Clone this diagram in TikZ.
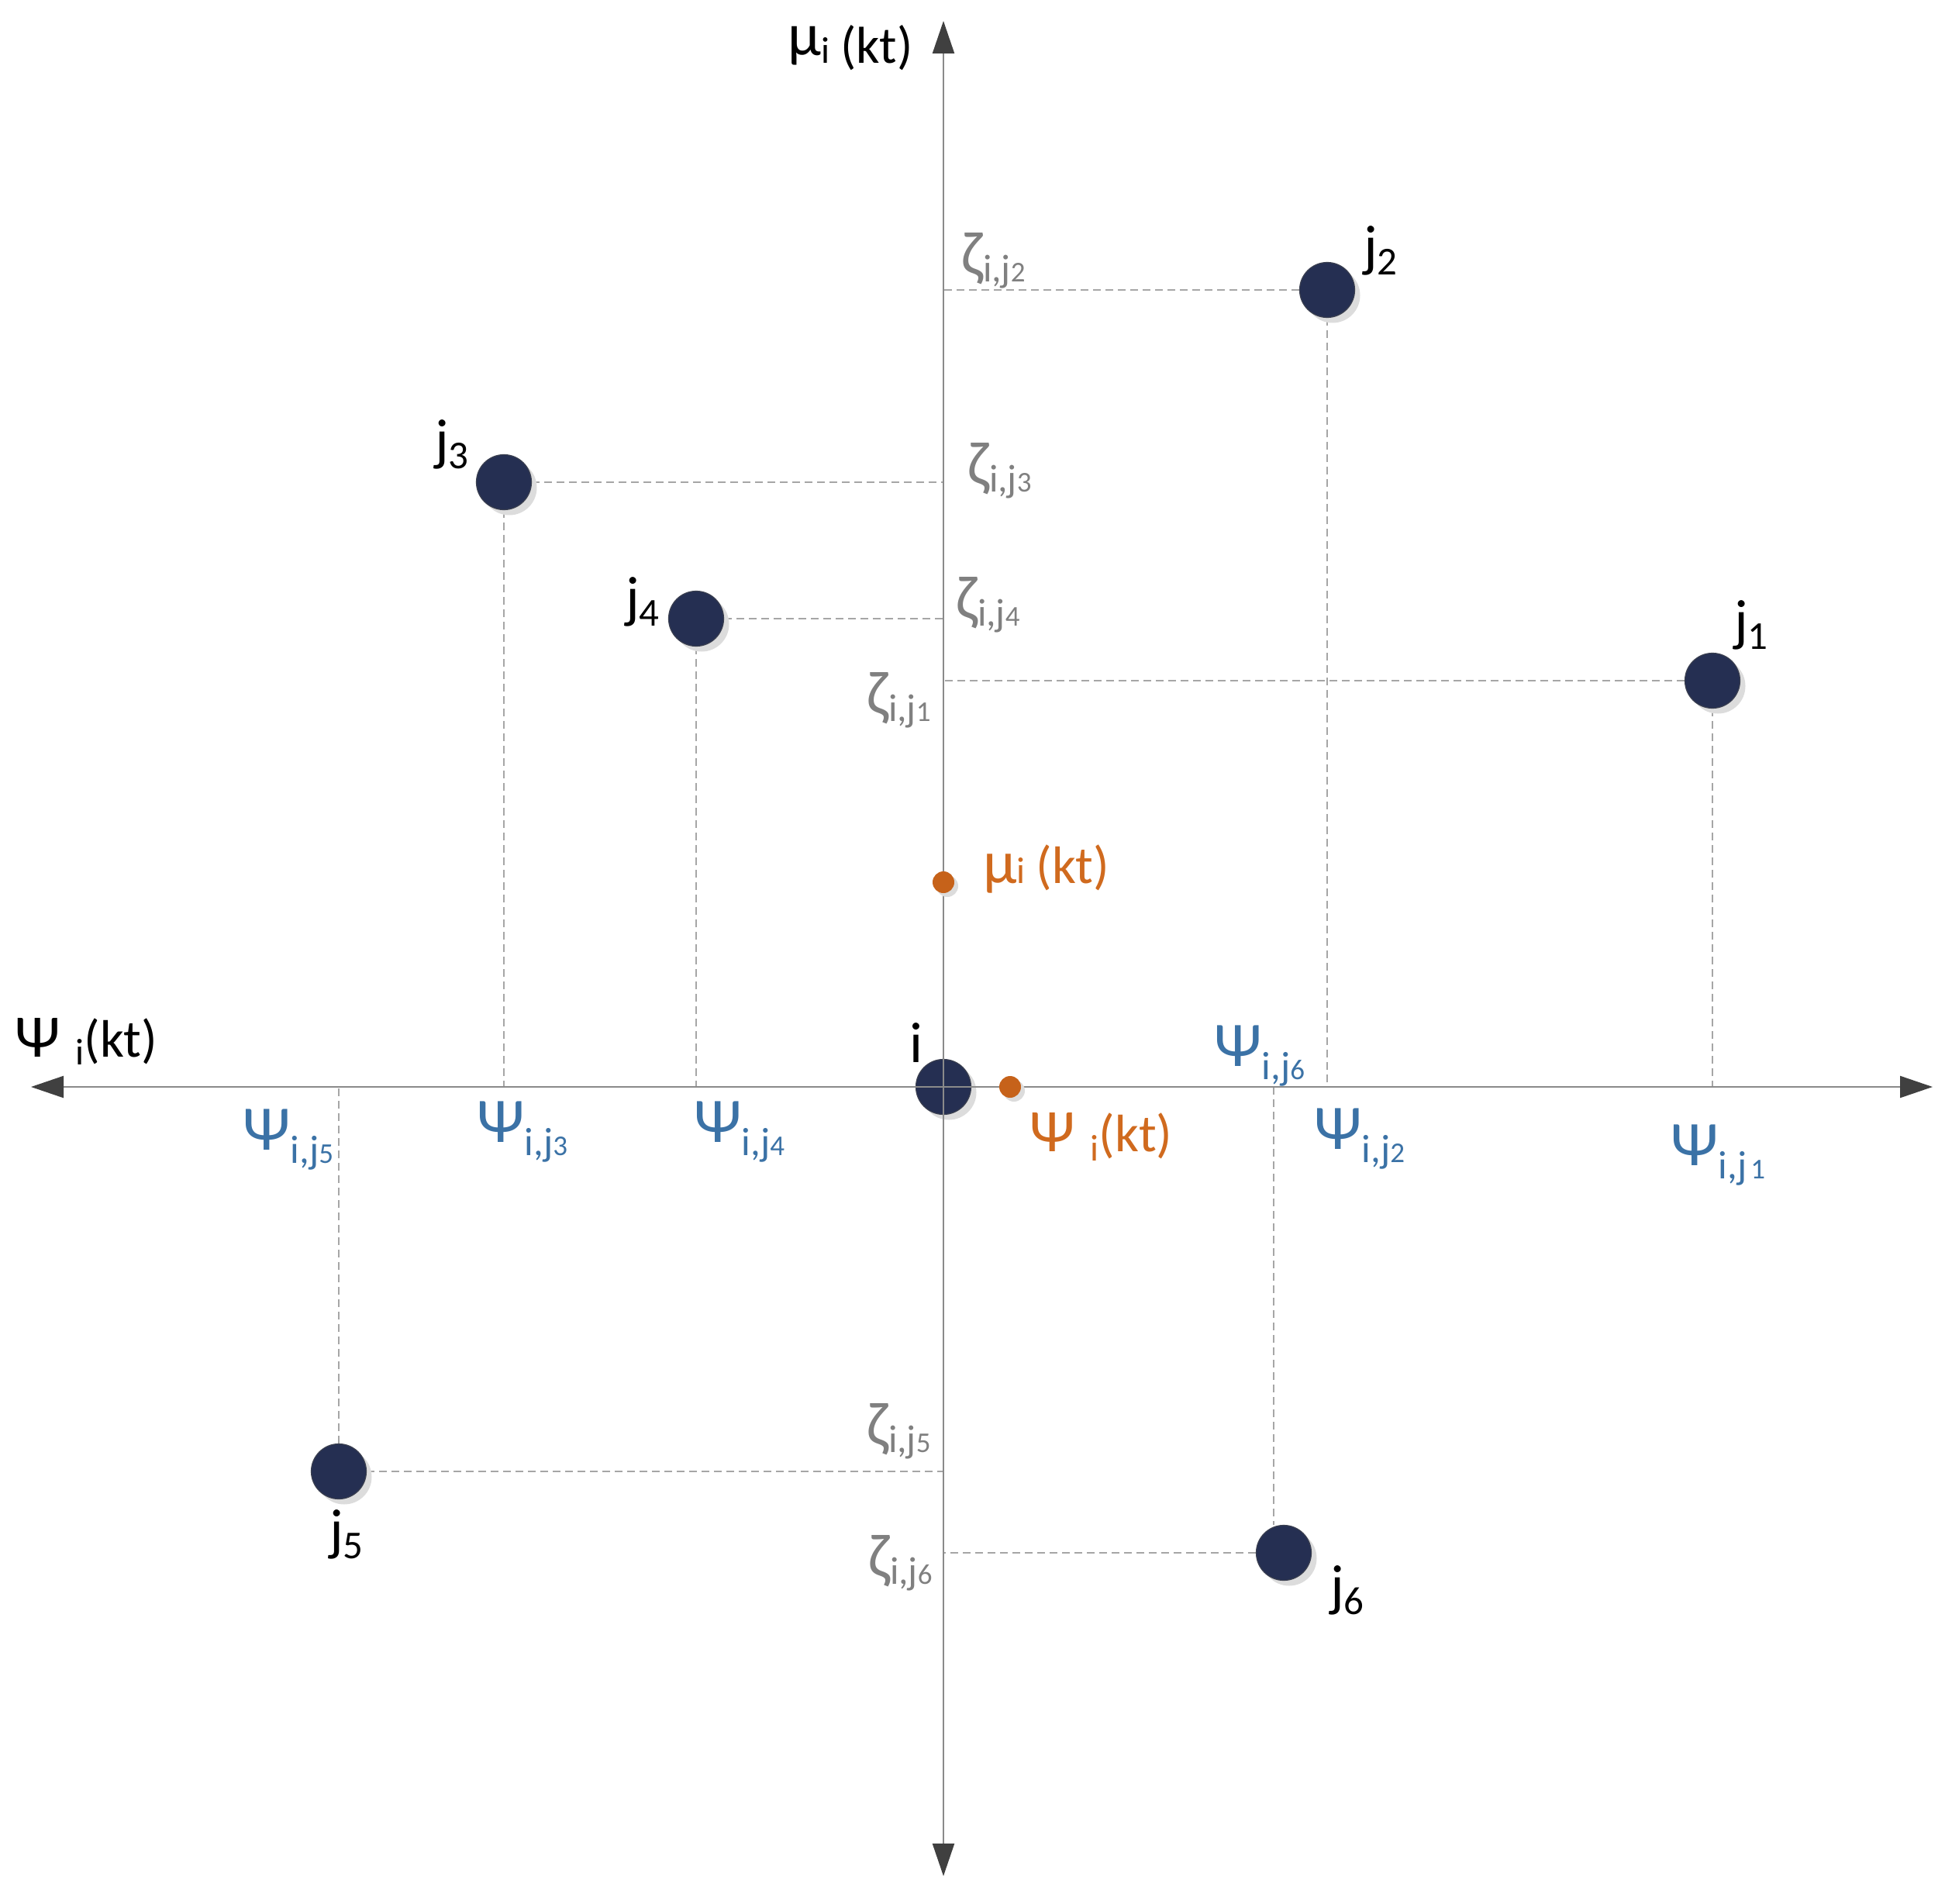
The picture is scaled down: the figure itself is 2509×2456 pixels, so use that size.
\documentclass[tikz,border=0pt]{standalone}
\usepackage{fontspec}
\setmainfont{Carlito}
\usetikzlibrary{arrows.meta,shadows,backgrounds}
\definecolor{navy}{HTML}{252F52}
\definecolor{navyedge}{HTML}{3A3F4F}
\definecolor{orng}{HTML}{C6621A}
\definecolor{orngtxt}{HTML}{D06A1E}
\definecolor{bluetxt}{HTML}{3B72A6}
\definecolor{greytxt}{HTML}{808080}
\definecolor{axisgrey}{HTML}{8A8A8A}
\definecolor{dashgrey}{HTML}{A6A6A6}
\definecolor{shadowgrey}{HTML}{DCDCDC}
\definecolor{tipgrey}{HTML}{404040}
\newcommand\zetalab[1]{{\fontsize{80}{80}\selectfont ζ}\raisebox{-9pt}{\fontsize{50}{50}\selectfont i,j\fontsize{37}{37}\selectfont #1}}
\newcommand\psilab[1]{{\fontsize{82}{82}\selectfont Ψ}\raisebox{-17pt}{\fontsize{51}{51}\selectfont i,j\fontsize{37}{37}\selectfont #1}}
\newcommand\jlab[1]{{\fontsize{74}{74}\selectfont j}\raisebox{-12pt}{\fontsize{51}{51}\selectfont #1}}
\tikzset{
  agent/.style={circle, fill=navy, draw=navyedge, line width=1.2pt, minimum size=71pt, inner sep=0pt,
    drop shadow={shadow xshift=7pt, shadow yshift=-7pt, fill=shadowgrey, opacity=1}},
  odot/.style={circle, fill=orng, minimum size=28pt, inner sep=0pt,
    drop shadow={shadow xshift=5pt, shadow yshift=-5pt, fill=shadowgrey, opacity=1}},
  guide/.style={draw=dashgrey, line width=1.4pt, dash pattern=on 10pt off 6pt},
  axisline/.style={draw=axisgrey, line width=2.2pt,
    {Triangle[length=42pt,width=28pt,color=tipgrey]}-{Triangle[length=42pt,width=28pt,color=tipgrey]}},
  lbl/.style={anchor=base west, inner sep=0pt},
  zlbl/.style={lbl, text=greytxt},
  plbl/.style={lbl, text=bluetxt},
}
\begin{document}
\begin{tikzpicture}[x=1pt,y=-1pt]
\useasboundingbox (0,0) rectangle (2509,2456);
% origin agent (axes drawn over it)
\node[agent] (i) at (1217,1402) {};
\coordinate (xl) at (40,1402);
\coordinate (xr) at (2493,1402);
\coordinate (yt) at (1217,27);
\coordinate (yb) at (1217,2420);
\draw[axisline] (xr) -- (xl);
\draw[axisline] (yt) -- (yb);
% neighbour agents
\node[agent] (j1) at (2209,878) {};
\node[agent] (j2) at (1712,374) {};
\node[agent] (j3) at (650,622) {};
\node[agent] (j4) at (898,798) {};
\node[agent] (j5) at (437,1898) {};
\node[agent] (j6) at (1656,2003) {};
\coordinate (f6) at (1643,1402);
\begin{scope}[on background layer]
\draw[guide] (j1) -- (j1 -| i);
\draw[guide] (j1) -- (j1 |- i);
\draw[guide] (j2) -- (j2 -| i);
\draw[guide] (j2) -- (j2 |- i);
\draw[guide] (j3) -- (j3 -| i);
\draw[guide] (j3) -- (j3 |- i);
\draw[guide] (j4) -- (j4 -| i);
\draw[guide] (j4) -- (j4 |- i);
\draw[guide] (j5) -- (j5 -| i);
\draw[guide] (j5) -- (j5 |- i);
\draw[guide] (j6) -- (j6 -| i);
\draw[guide] (f6) -- (f6 |- j6.north);
\end{scope}
% estimated position dots
\node[odot] (mu) at (1217,1138) {};
\node[odot] (ps) at (1303,1402) {};
% axis labels
\node[lbl] (ylab) at (1016,82) {\raisebox{10pt}{\fontsize{78}{78}\selectfont μ}{\fontsize{48}{48}\selectfont i}\hspace{14pt}{\fontsize{67}{67}\selectfont (kt)}};
\node[lbl] (xlab) at (19,1363) {{\fontsize{78}{78}\selectfont Ψ}\hspace{20pt}\raisebox{-10pt}{\fontsize{48}{48}\selectfont i}{\fontsize{68}{68}\selectfont (kt)}};
\node[lbl, text=orngtxt] (mulab) at (1268,1139) {{\fontsize{79}{79}\selectfont μ}{\fontsize{48}{48}\selectfont i}\hspace{14pt}{\fontsize{68}{68}\selectfont (kt)}};
\node[lbl, text=orngtxt] (pslab) at (1328,1485) {{\fontsize{78}{78}\selectfont Ψ}\hspace{20pt}\raisebox{-12pt}{\fontsize{48}{48}\selectfont i}{\fontsize{68}{68}\selectfont (kt)}};
% agent labels
\node[anchor=base, inner sep=0pt] (li) at (1182,1370) {\fontsize{74}{74}\selectfont i};
\node[lbl] (lj1) at (2237,825) {\jlab{1}};
\node[lbl] (lj2) at (1759,342) {\jlab{2}};
\node[lbl] (lj3) at (561,592) {\jlab{3}};
\node[lbl] (lj4) at (807,795) {\jlab{4}};
\node[lbl] (lj5) at (425,1998) {\jlab{5}};
\node[lbl] (lj6) at (1716,2070) {\jlab{6}};
% zeta labels
\node[zlbl] (z2) at (1240,355) {\zetalab{2}};
\node[zlbl] (z3) at (1248,625) {\zetalab{3}};
\node[zlbl] (z4) at (1233,798) {\zetalab{4}};
\node[zlbl] (z1) at (1118,921) {\zetalab{1}};
\node[zlbl] (z5) at (1118,1864) {\zetalab{5}};
\node[zlbl] (z6) at (1120,2034) {\zetalab{6}};
% psi labels
\node[plbl] (p5) at (313,1483) {\psilab{5}};
\node[plbl] (p3) at (615,1473) {\psilab{3}};
\node[plbl] (p4) at (895,1473) {\psilab{4}};
\node[plbl] (p6) at (1566,1375) {\psilab{6}};
\node[plbl] (p2) at (1695,1482) {\psilab{2}};
\node[plbl] (p1) at (2155,1503) {{\fontsize{82}{82}\selectfont Ψ}\raisebox{-17pt}{\fontsize{51}{51}\selectfont i,j\hspace{5pt}\fontsize{37}{37}\selectfont 1}};
\end{tikzpicture}
\end{document}
